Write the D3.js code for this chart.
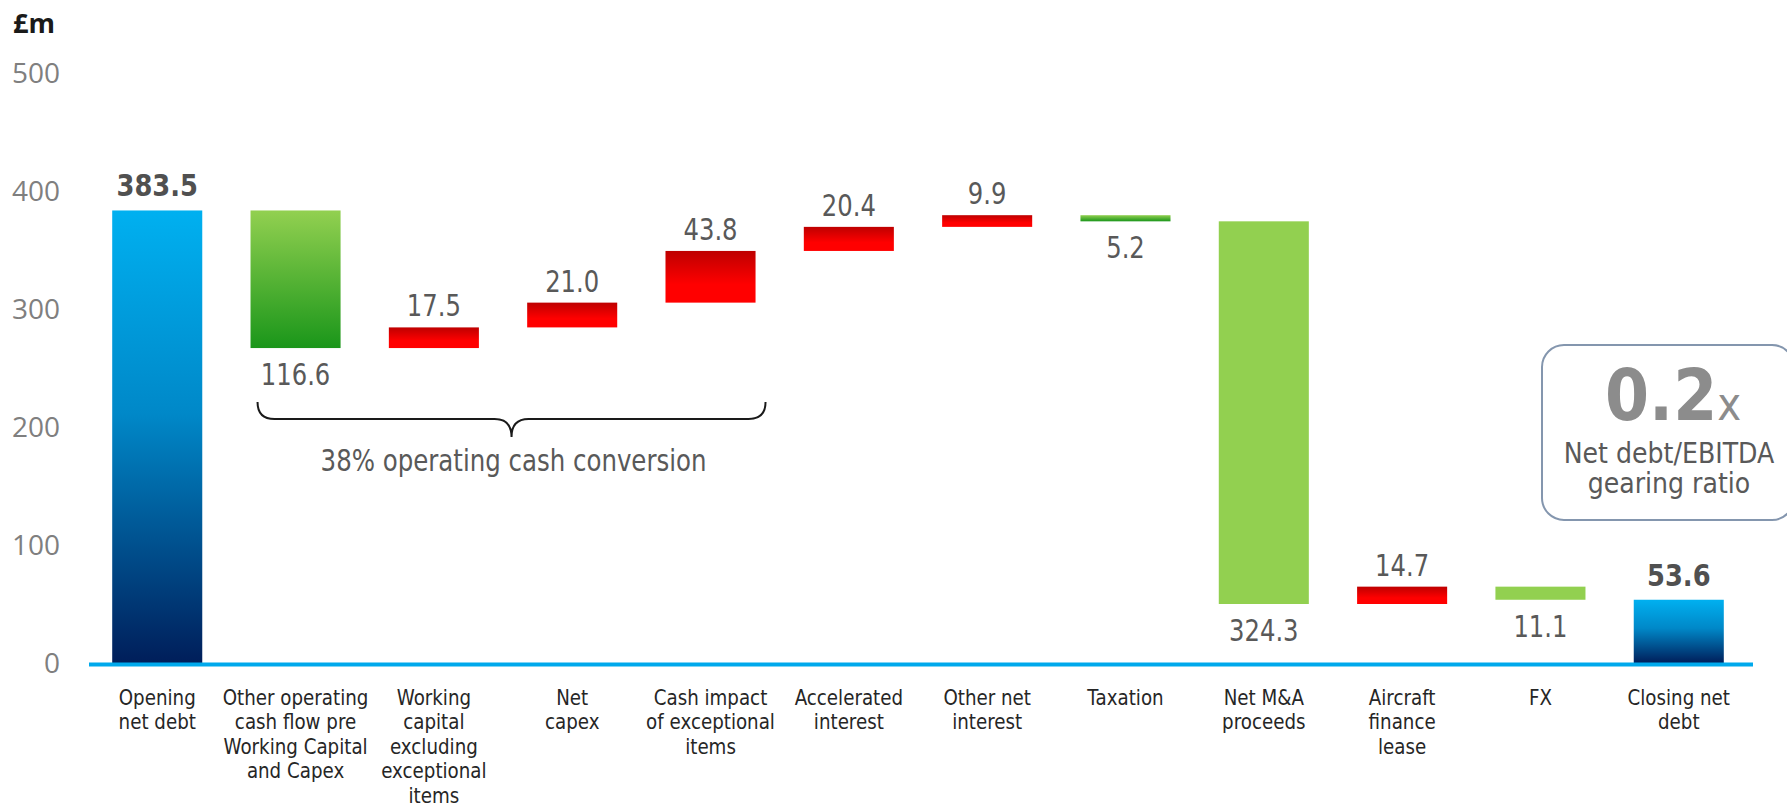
<!DOCTYPE html>
<html><head><meta charset="utf-8">
<script src="https://cdn.jsdelivr.net/npm/d3@7"></script>
<style>
html,body{margin:0;padding:0;background:#fff;}
svg{display:block;}
</style></head>
<body>
<svg id="chart" width="1787" height="808"></svg>
<script>
// ---- data ----
const categories = [
  "Opening\nnet debt",
  "Other operating\ncash flow pre\nWorking Capital\nand Capex",
  "Working\ncapital\nexcluding\nexceptional\nitems",
  "Net\ncapex",
  "Cash impact\nof exceptional\nitems",
  "Accelerated\ninterest",
  "Other net\ninterest",
  "Taxation",
  "Net M&A\nproceeds",
  "Aircraft\nfinance\nlease",
  "FX",
  "Closing net\ndebt"
];
// change in net debt (+ = increase, - = decrease); totals are absolute
const values = [383.5, -116.6, 17.5, 21.0, 43.8, 20.4, 9.9, -5.2, -324.3, 14.7, -11.1, 53.6];
const barKinds = ["total","delta","delta","delta","delta","delta","delta","delta","delta","delta","delta","total"];
const yTicks = [0, 100, 200, 300, 400, 500];
const unitLabel = "£m";
const braceLabel = "38% operating cash conversion";
const gearingValue = "0.2";
const gearingSuffix = "x";
const gearingLabel = ["Net debt/EBITDA", "gearing ratio"];

// ---- layout ----
const svg = d3.select("#chart");
const y = d3.scaleLinear().domain([0, 500]).range([663, 73]);
const x = d3.scaleBand().domain(categories).range([88, 1748]).paddingInner(0.349).paddingOuter(0.175);

// running totals
let run = 0;
const bars = categories.map((c, i) => {
  let y0, y1;
  if (barKinds[i] === "total") { y0 = 0; y1 = values[i]; run = values[i]; }
  else { y0 = run; y1 = run + values[i]; run = y1; }
  return {cat: c, i, v: values[i], kind: barKinds[i], lo: Math.min(y0, y1), hi: Math.max(y0, y1)};
});

// gradients
const defs = svg.append("defs");
function grad(id, stops) {
  const g = defs.append("linearGradient").attr("id", id).attr("x1", 0).attr("y1", 0).attr("x2", 0).attr("y2", 1);
  stops.forEach(s => g.append("stop").attr("offset", s[0]).attr("stop-color", s[1]));
}
grad("gBlue", [[0, "#00B0F0"], [0.45, "#0088C8"], [1, "#001E5A"]]);
grad("gGreen", [[0, "#92D050"], [1, "#1A961A"]]);
grad("gRed", [[0, "#BE0000"], [0.65, "#FF0000"], [1, "#FF0000"]]);

const flatGreen = new Set(["Net M&A\nproceeds", "FX"]);
function fillFor(b) {
  if (b.kind === "total") return "url(#gBlue)";
  if (b.v > 0) return "url(#gRed)";
  return flatGreen.has(b.cat) ? "#92D050" : "url(#gGreen)";
}

// text helper with horizontal condensing
function label(g, px, py, str, o) {
  const t = g.append("text")
    .attr("transform", `translate(${px},${py}) scale(${o.sx || 1},1)`)
    .attr("text-anchor", o.anchor || "middle")
    .attr("font-family", o.family || "'DejaVu Sans', sans-serif")
    .attr("font-size", o.size)
    .attr("font-weight", o.weight || "normal")
    .attr("fill", o.color);
  if (o.lines) {
    o.lines.forEach((ln, k) => t.append("tspan").attr("x", 0).attr("y", k * o.lh).text(ln));
  } else t.text(str);
  return t;
}

// y tick labels
const ga = svg.append("g");
yTicks.forEach(v => label(ga, 60, y(v) + 10, String(v), {anchor: "end", family: "'Open Sans', sans-serif", size: 28, color: "#7F7F7F"}));
label(ga, 13, 33, unitLabel, {anchor: "start", family: "'Open Sans', sans-serif", size: 27, weight: "bold", color: "#1A1A1A"});

// bars
const gb = svg.append("g");
gb.selectAll("rect").data(bars).join("rect")
  .attr("x", d => x(d.cat))
  .attr("width", x.bandwidth())
  .attr("y", d => y(d.hi))
  .attr("height", d => Math.max(1, y(d.lo) - y(d.hi)))
  .attr("fill", d => fillFor(d));

// axis line
svg.append("line").attr("x1", 89).attr("x2", 1753).attr("y1", y(0) + 1.5).attr("y2", y(0) + 1.5)
  .attr("stroke", "#00A9EC").attr("stroke-width", 4);

// value labels
const gv = svg.append("g");
bars.forEach(b => {
  const cx = x(b.cat) + x.bandwidth() / 2;
  const txt = Math.abs(b.v).toFixed(1);
  if (b.kind === "total") {
    label(gv, cx, y(b.hi) - 14, txt, {size: 30, weight: "bold", sx: 0.86, color: "#505050"});
  } else if (b.v > 0) {
    label(gv, cx, y(b.hi) - 11, txt, {size: 30, sx: 0.81, color: "#595959"});
  } else {
    label(gv, cx, y(b.lo) + 37, txt, {size: 30, sx: 0.81, color: "#595959"});
  }
});

// category labels
const gc = svg.append("g");
categories.forEach(c => {
  const cx = x(c) + x.bandwidth() / 2;
  label(gc, cx, 705, null, {size: 22, sx: 0.83, color: "#262626", lines: c.split("\n"), lh: 24.4});
});

// brace under bars 2..5
const bx0 = x(categories[1]) + 7, bx1 = x(categories[4]) + x.bandwidth() + 10;
const bm = (bx0 + bx1) / 2, bt = 402, bl = 419, btip = 437, r = 17;
const p = d3.path();
p.moveTo(bx0, bt);
p.quadraticCurveTo(bx0, bl, bx0 + r, bl);
p.lineTo(bm - r, bl);
p.quadraticCurveTo(bm, bl, bm, btip);
p.quadraticCurveTo(bm, bl, bm + r, bl);
p.lineTo(bx1 - r, bl);
p.quadraticCurveTo(bx1, bl, bx1, bt);
svg.append("path").attr("d", p.toString()).attr("fill", "none").attr("stroke", "#1A1A1A").attr("stroke-width", 2);
label(svg, bm + 2, 471, braceLabel, {size: 30, sx: 0.816, color: "#595959"});

// gearing box
const gx = svg.append("g");
gx.append("rect").attr("x", 1542).attr("y", 345).attr("width", 252).attr("height", 175).attr("rx", 22)
  .attr("fill", "#fff").attr("stroke", "#8496AE").attr("stroke-width", 2);
const gt = gx.append("text").attr("transform", "translate(1605,420) scale(0.88,1)")
  .attr("font-family", "'DejaVu Sans', sans-serif").attr("fill", "#8C8C8C");
gt.append("tspan").attr("font-size", 72).attr("font-weight", "bold").text(gearingValue);
gt.append("tspan").attr("font-size", 46).text(gearingSuffix);
label(gx, 1669, 463, null, {size: 29, sx: 0.87, color: "#595959", lines: gearingLabel, lh: 30.5});
</script>
</body></html>
